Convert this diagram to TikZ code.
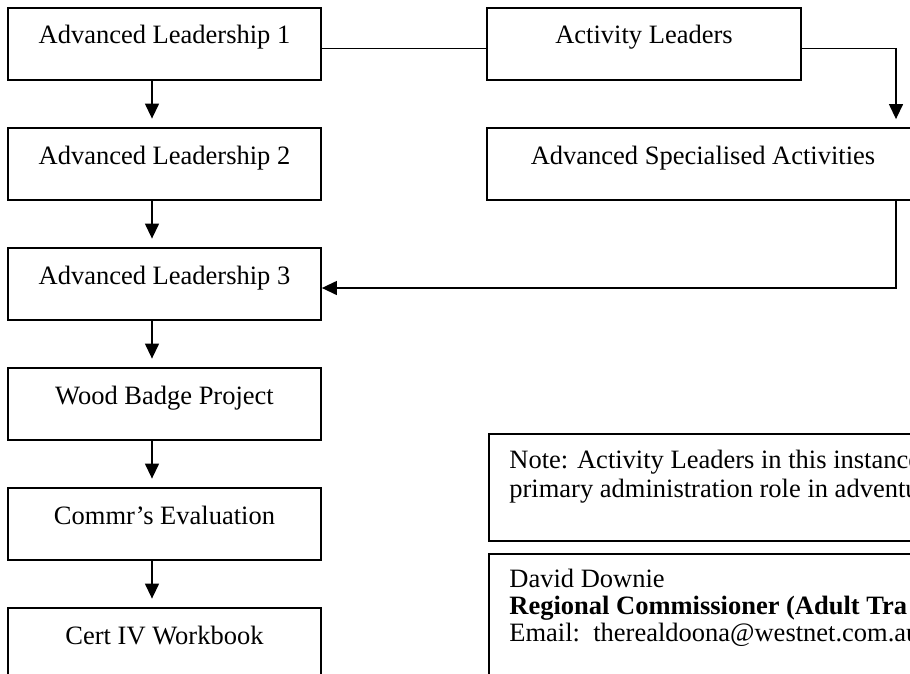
\documentclass[tikz,border=0pt]{standalone}
\usepackage{fontspec}
\setmainfont{Liberation Serif}
\usetikzlibrary{arrows.meta}
\begin{document}
\begin{tikzpicture}[x=0.5pt,y=-0.5pt,
  font=\fontsize{13.25pt}{15pt}\selectfont,
  flowbox/.style={draw, line width=0.9pt, inner sep=0pt, minimum width=156.5pt, text height=18pt, text depth=18pt},
  notebox/.style={draw, line width=0.9pt, inner sep=0pt, anchor=north west, minimum width=250pt},
  txtline/.style={anchor=base west, inner sep=0pt},
  conn/.style={line width=0.65pt},
  arr/.style={conn, -{Triangle[length=7.5pt,width=7pt]}},
]
\useasboundingbox (0,0) rectangle (910,674);
\clip (0,0) rectangle (910,674);
% left column
\node[flowbox] (b1) at (164.5,44) {Advanced Leadership 1};
\node[flowbox] (b2) at (164.5,164) {Advanced Leadership 2};
\node[flowbox] (b3) at (164.5,284) {Advanced Leadership 3};
\node[flowbox] (b4) at (164.5,404) {Wood Badge Project};
\node[flowbox] (b5) at (164.5,524) {Commr’s Evaluation};
\node[flowbox] (b6) at (164.5,644) {Cert IV Workbook};
% right column
\node[flowbox, minimum width=157pt] (al) at (644,44) {Activity Leaders};
\node[flowbox, minimum width=216pt] (asa) at (703,164) {Advanced Specialised Activities};
% helper x positions
\coordinate (ax) at (152,0);
\coordinate (rx) at (896,0);
% vertical arrows
\draw[arr, shorten >=4.25pt] (b1.south -| ax) -- (b2.north -| ax);
\draw[arr, shorten >=4.25pt] (b2.south -| ax) -- (b3.north -| ax);
\draw[arr, shorten >=4.25pt] (b3.south -| ax) -- (b4.north -| ax);
\draw[arr, shorten >=4.25pt] (b4.south -| ax) -- (b5.north -| ax);
\draw[arr, shorten >=4.25pt] (b5.south -| ax) -- (b6.north -| ax);
% right connectors
\draw[conn] ([yshift=-2.25pt]b1.east) -- ([yshift=-2.25pt]al.west);
\draw[arr, shorten >=4pt] ([yshift=-2.25pt]al.east) -| (asa.north -| rx);
\draw[arr] (asa.south -| rx) |- ([yshift=-2pt]b3.east);
% note box
\node[notebox, minimum height=53.5pt] (note) at (488,433) {};
\node[txtline] (n1) at (509,468) {Note: Activity Leaders in this instance};
\node[txtline] (n2) at (509,497) {primary administration role in adventu};
% contact box
\node[notebox, minimum height=100pt] (contact) at (488,553) {};
\node[txtline] (c1) at (509,587) {David Downie};
\node[txtline] (c2) at (509,614) {\textbf{Regional Commissioner (Adult Tra}};
\node[txtline] (c3) at (509,641) {Email:\ \ therealdoona@westnet.com.au};
\end{tikzpicture}
\end{document}
